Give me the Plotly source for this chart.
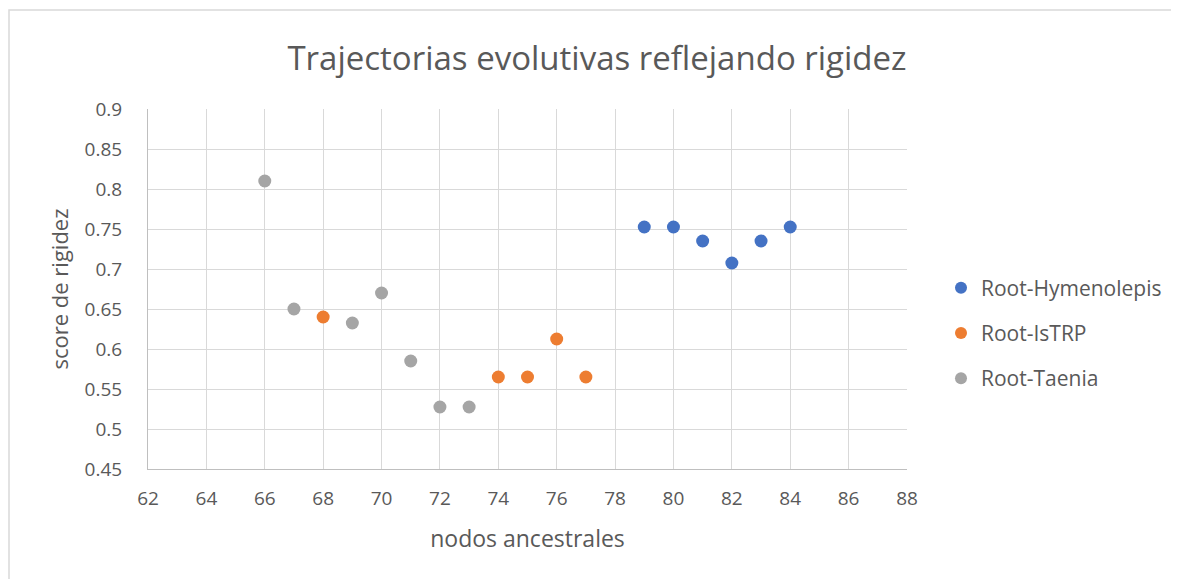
import plotly.graph_objects as go

# Data
hym_x = [79, 80, 81, 82, 83, 84]
hym_y = [0.7525, 0.7525, 0.735, 0.7075, 0.735, 0.7525]
istrp_x = [68, 74, 75, 76, 77]
istrp_y = [0.64, 0.565, 0.565, 0.6125, 0.565]
taenia_x = [66, 67, 69, 70, 71, 72, 73]
taenia_y = [0.81, 0.65, 0.6325, 0.67, 0.585, 0.5275, 0.5275]

series = [
    ("Root-Hymenolepis", hym_x, hym_y, "#4472C4"),
    ("Root-IsTRP", istrp_x, istrp_y, "#ED7D31"),
    ("Root-Taenia", taenia_x, taenia_y, "#A5A5A5"),
]

FONT = "Open Sans"
TXT = "#595959"

fig = go.Figure()
for name, xs, ys, col in series:
    fig.add_trace(go.Scatter(
        x=xs, y=ys, mode="markers", name=name, legendgroup=name,
        marker=dict(size=13, color=col, line=dict(width=0)),
    ))

W, H = 1171, 571
L, R, T, B = 140, 272, 101, 110
PW = W - L - R
PH = H - T - B
fig.update_layout(
    width=W, height=H,
    margin=dict(l=L, r=R, t=T, b=B),
    paper_bgcolor="white", plot_bgcolor="white",
    font=dict(family=FONT, color=TXT, size=19),
    title=dict(text="Trajectorias evolutivas reflejando rigidez",
               x=589 / W, xanchor="center", xref="container",
               y=1 - 50 / H, yanchor="middle", yref="container",
               font=dict(size=33, color=TXT, family=FONT)),
    xaxis=dict(range=[62, 88], dtick=2, showgrid=True, gridcolor="#D9D9D9", gridwidth=1,
               zeroline=False, showline=True, linecolor="#BFBFBF", linewidth=1,
               ticks="", ticklabelstandoff=12,
               tickfont=dict(size=19, color=TXT),
               title=dict(text="nodos ancestrales", font=dict(size=23, color=TXT), standoff=21)),
    yaxis=dict(range=[0.45, 0.9], dtick=0.05, showgrid=True, gridcolor="#D9D9D9", gridwidth=1,
               zeroline=False, showline=True, linecolor="#BFBFBF", linewidth=1,
               ticks="", ticklabelstandoff=21, tickformat="~g",
               tickfont=dict(size=19, color=TXT),
               title=dict(text="score de rigidez", font=dict(size=22, color=TXT), standoff=9)),
    legend=dict(x=(933 - L) / PW, xanchor="left", y=(461 - 325) / PH, yanchor="middle",
                font=dict(size=21, color=TXT), tracegroupgap=15,
                itemsizing="constant", bgcolor="rgba(0,0,0,0)"),
    showlegend=True,
    shapes=[dict(type="rect", xref="paper", yref="paper",
                 x0=(1 - L) / PW, x1=2.0, y0=-1.0, y1=1 + (T - 2) / PH,
                 line=dict(color="#D9D9D9", width=1.5), fillcolor="rgba(0,0,0,0)",
                 layer="below")],
)

fig.write_html("out.html")
